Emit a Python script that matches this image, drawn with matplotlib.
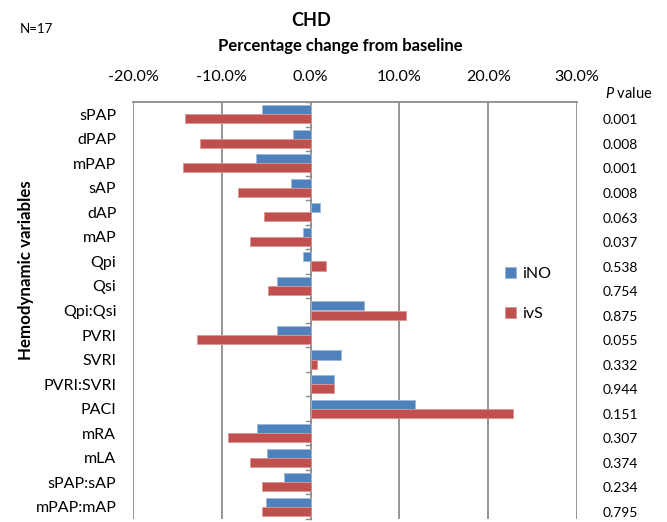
import matplotlib
matplotlib.use('Agg')
import matplotlib.pyplot as plt
import numpy as np

plt.rcParams['font.family'] = ['Lato', 'DejaVu Sans']
plt.rcParams['mathtext.fontset'] = 'custom'
plt.rcParams['mathtext.it'] = 'Lato:italic'
plt.rcParams['mathtext.rm'] = 'Lato'

variables = ['sPAP', 'dPAP', 'mPAP', 'sAP', 'dAP', 'mAP', 'Qpi', 'Qsi', 'Qpi:Qsi',
             'PVRI', 'SVRI', 'PVRI:SVRI', 'PACI', 'mRA', 'mLA', 'sPAP:sAP', 'mPAP:mAP']
ino = [-5.5, -2.0, -6.1, -2.2, 1.1, -0.8, -0.8, -3.8, 6.0,
       -3.8, 3.4, 2.6, 11.8, -6.0, -4.9, -3.0, -5.0]
ivs = [-14.2, -12.4, -14.4, -8.2, -5.3, -6.8, 1.7, -4.8, 10.7,
       -12.8, 0.7, 2.6, 22.8, -9.3, -6.8, -5.5, -5.5]
p_values = ['0.001', '0.008', '0.001', '0.008', '0.063', '0.037', '0.538', '0.754', '0.875',
            '0.055', '0.332', '0.944', '0.151', '0.307', '0.374', '0.234', '0.795']
xticks = [-20, -10, 0, 10, 20, 30]

blue = '#4F81BD'
red = '#C0504D'
grid = '#8C8C8C'

fig = plt.figure(figsize=(6.67, 5.22), dpi=100)
ax = fig.add_axes([133 / 667, 3 / 522, 444 / 667, 417 / 522])

y = np.arange(len(variables))
h = 0.37
ax.barh(y - h / 2, ino, height=h, color=blue, edgecolor='#9DB9DC', linewidth=0.6, label='iNO', zorder=3)
ax.barh(y + h / 2, ivs, height=h, color=red, edgecolor='#D99694', linewidth=0.6, label='ivS', zorder=3)

ax.set_xlim(-20, 30)
ax.set_ylim(len(variables) - 0.5, -0.5)

# percent axis on top, vertical gridlines
ax.xaxis.tick_top()
ax.set_xticks(xticks)
ax.set_xticklabels(['%.1f%%' % t for t in xticks], fontsize=11.6)
ax.tick_params(axis='x', length=0, pad=13)
for t in xticks:
    ax.axvline(t, color=grid, lw=1.3, zorder=1)

ax.set_yticks(y)
ax.set_yticklabels(variables, fontsize=11.5)
ax.tick_params(axis='y', length=0, pad=12)

for s in ['right', 'bottom', 'left']:
    ax.spines[s].set_visible(False)
ax.spines['top'].set_color(grid)
ax.spines['top'].set_linewidth(1.3)

# category tick marks on the zero line
for b in np.arange(-0.5, len(variables), 1.0):
    ax.plot([-0.5, 0], [b, b], color=grid, lw=1.0, zorder=2, clip_on=False)

ax.set_ylabel('Hemodynamic variables', fontsize=12.2, fontweight='bold')
ax.yaxis.set_label_coords(-0.222, 0.597)

leg = ax.legend(loc='center left', bbox_to_anchor=(0.805, 0.54), frameon=False,
                handlelength=0.7, handleheight=0.7, handletextpad=0.4,
                labelspacing=1.6, fontsize=11.5)

# P values column at the right
tr = ax.get_yaxis_transform()
ax.text(1.117, -0.55, '$\\it{P}$ value', transform=tr, ha='center', va='bottom',
        fontsize=10.5, clip_on=False)
for i, p in enumerate(p_values):
    ax.text(1.097, i + 0.25, p, transform=tr, ha='center', va='center',
            fontsize=10, clip_on=False)

fig.text(0.030, 0.945, 'N=17', fontsize=9.5, va='center')
fig.text(311 / 667, 1 - 20 / 522, 'CHD', fontsize=13, fontweight='bold', ha='center', va='center')
fig.text(340 / 667, 1 - 46 / 522, 'Percentage change from baseline', fontsize=12,
         fontweight='bold', ha='center', va='center')

fig.savefig('out.png', dpi=100)
